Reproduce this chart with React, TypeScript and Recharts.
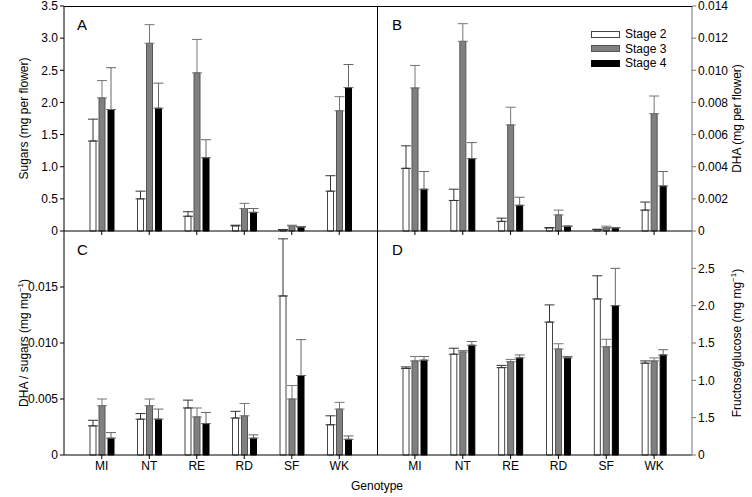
import { BarChart, Bar, XAxis, YAxis, ErrorBar } from "recharts";

const genotypes = ["MI", "NT", "RE", "RD", "SF", "WK"];

// A: sugars (mg per flower)
const sugarStage2 = [1.4, 0.5, 0.23, 0.08, 0.02, 0.62];
const sugarStage3 = [2.07, 2.92, 2.46, 0.35, 0.08, 1.87];
const sugarStage4 = [1.89, 1.91, 1.14, 0.29, 0.06, 2.23];
const sugarErr2 = [0.34, 0.12, 0.07, 0.01, 0, 0.24];
const sugarErr3 = [0.27, 0.29, 0.52, 0.08, 0.01, 0.22];
const sugarErr4 = [0.65, 0.39, 0.28, 0.06, 0.01, 0.36];

// B: DHA (mg per flower)
const dhaStage2 = [0.0039, 0.0019, 0.0006, 0.0002, 0.0001, 0.0013];
const dhaStage3 = [0.0089, 0.0118, 0.0066, 0.001, 0.0002, 0.0073];
const dhaStage4 = [0.0026, 0.0045, 0.0016, 0.0003, 0.0002, 0.0028];
const dhaErr2 = [0.0014, 0.0007, 0.0002, 0, 0, 0.0005];
const dhaErr3 = [0.0014, 0.0011, 0.0011, 0.0003, 0.0001, 0.0011];
const dhaErr4 = [0.0011, 0.001, 0.0005, 0, 0, 0.0009];

// C: DHA / sugars
const ratioStage2 = [0.0026, 0.0032, 0.0042, 0.0033, 0.0142, 0.0027];
const ratioStage3 = [0.0044, 0.0044, 0.0034, 0.0035, 0.005, 0.0041];
const ratioStage4 = [0.0015, 0.0032, 0.0028, 0.0015, 0.0071, 0.0014];
const ratioErr2 = [0.0005, 0.0005, 0.0007, 0.0006, 0.0051, 0.0008];
const ratioErr3 = [0.0006, 0.0006, 0.0008, 0.0011, 0.0012, 0.0006];
const ratioErr4 = [0.0005, 0.0009, 0.001, 0.0003, 0.0032, 0.0003];

// D: fructose / glucose
const fgStage2 = [1.16, 1.35, 1.17, 1.78, 2.09, 1.23];
const fgStage3 = [1.26, 1.38, 1.25, 1.42, 1.45, 1.26];
const fgStage4 = [1.27, 1.47, 1.3, 1.3, 2.0, 1.34];
const fgErr2 = [0.02, 0.08, 0.03, 0.23, 0.31, 0.03];
const fgErr3 = [0.06, 0.02, 0.03, 0.07, 0.1, 0.04];
const fgErr4 = [0.05, 0.05, 0.04, 0.02, 0.5, 0.07];

const sugarTicks = [0, 0.5, 1, 1.5, 2, 2.5, 3, 3.5];
const sugarTickLabels = ["0", "0.5", "1.0", "1.5", "2.0", "2.5", "3.0", "3.5"];
const dhaTicks = [0, 0.002, 0.004, 0.006, 0.008, 0.01, 0.012, 0.014];
const dhaTickLabels = ["0", "0.002", "0.004", "0.006", "0.008", "0.010", "0.012", "0.014"];
const ratioTicks = [0, 0.005, 0.01, 0.015];
const ratioTickLabels = ["0", "0.005", "0.010", "0.015"];
const fgTicks = [0, 0.5, 1, 1.5, 2, 2.5];
const fgTickLabels = ["0", "1.5", "1.0", "1.5", "2.0", "2.5"];

const stageNames = ["Stage 2", "Stage 3", "Stage 4"];

const makeRows = (m2, m3, m4, e2, e3, e4) =>
  genotypes.map((g, i) => ({
    g,
    s2: m2[i],
    s3: m3[i],
    s4: m4[i],
    e2: [0, e2[i]],
    e3: [0, e3[i]],
    e4: [0, e4[i]],
  }));

const AxisTitle = ({ viewBox, dx, text, sup, after }: any) => {
  const cx = viewBox.x + dx;
  const cy = viewBox.y + viewBox.height / 2;
  return (
    <text x={cx} y={cy} transform={`rotate(-90 ${cx} ${cy})`} textAnchor="middle" fontSize={12} fill="#000">
      {text}
      {sup && (
        <tspan dy={-5} fontSize={8}>
          {sup}
        </tspan>
      )}
      {sup && <tspan dy={5}>{after}</tspan>}
    </text>
  );
};

const Panel = ({ left, top, width, height, margin, data, domain, ticks, tickLabels, side, yWidth, xHeight, showX, letter, title }: any) => {
  const fmt = (v: number) => {
    const i = ticks.findIndex((t: number) => Math.abs(t - v) < 1e-9);
    return i >= 0 ? tickLabels[i] : "";
  };
  return (
    <div style={{ position: "absolute", left, top }}>
      <BarChart width={width} height={height} data={data} margin={margin} barSize={6} barGap={3}>
        <XAxis
          dataKey="g"
          height={xHeight}
          padding={{ left: 14, right: 14 }}
          tickSize={4}
          axisLine={{ stroke: "#000" }}
          tickLine={{ stroke: "#000" }}
          tick={{ fill: "#000", fontSize: 12 }}
          tickFormatter={showX ? undefined : () => ""}
          interval={0}
        />
        <YAxis
          type="number"
          orientation={side}
          width={yWidth}
          domain={domain}
          ticks={ticks}
          interval={0}
          tickFormatter={fmt}
          tickSize={4}
          axisLine={{ stroke: side === "right" ? "#777" : "#000" }}
          tickLine={{ stroke: side === "right" ? "#777" : "#000" }}
          tick={{ fill: "#000", fontSize: 12 }}
          label={(p: any) => <AxisTitle viewBox={p.viewBox} {...title} />}
        />
        <Bar dataKey="s2" fill="#fff" stroke="#444" strokeWidth={1} isAnimationActive={false}>
          <ErrorBar dataKey="e2" width={5} stroke="#333" strokeWidth={1} isAnimationActive={false} />
        </Bar>
        <Bar dataKey="s3" fill="#808080" stroke="#555" strokeWidth={1} isAnimationActive={false}>
          <ErrorBar dataKey="e3" width={5} stroke="#777" strokeWidth={1} isAnimationActive={false} />
        </Bar>
        <Bar dataKey="s4" fill="#000" stroke="#000" strokeWidth={1} isAnimationActive={false}>
          <ErrorBar dataKey="e4" width={5} stroke="#666" strokeWidth={1} isAnimationActive={false} />
        </Bar>
      </BarChart>
      <div style={{ position: "absolute", left: letter.x, top: letter.y, fontSize: 15 }}>{letter.t}</div>
    </div>
  );
};

const legendFills = [
  { fill: "#fff", stroke: "#444" },
  { fill: "#808080", stroke: "#555" },
  { fill: "#000", stroke: "#000" },
];

export default function App() {
  return (
    <div
      style={{
        position: "absolute",
        left: 0,
        top: 0,
        width: 752,
        height: 497,
        background: "#fff",
        fontFamily: "'Liberation Sans', Arial, sans-serif",
        color: "#000",
      }}
    >
      <Panel
        left={0}
        top={0}
        width={378}
        height={241}
        margin={{ top: 6, right: 1, left: 0, bottom: 0 }}
        data={makeRows(sugarStage2, sugarStage3, sugarStage4, sugarErr2, sugarErr3, sugarErr4)}
        domain={[0, 3.5]}
        ticks={sugarTicks}
        tickLabels={sugarTickLabels}
        side="left"
        yWidth={64}
        xHeight={10}
        showX={false}
        letter={{ t: "A", x: 77, y: 16 }}
        title={{ dx: 28, text: "Sugars (mg per flower)" }}
      />
      <Panel
        left={377}
        top={0}
        width={375}
        height={241}
        margin={{ top: 6, right: 0, left: 0, bottom: 0 }}
        data={makeRows(dhaStage2, dhaStage3, dhaStage4, dhaErr2, dhaErr3, dhaErr4)}
        domain={[0, 0.014]}
        ticks={dhaTicks}
        tickLabels={dhaTickLabels}
        side="right"
        yWidth={60}
        xHeight={10}
        showX={false}
        letter={{ t: "B", x: 15, y: 16 }}
        title={{ dx: 49, text: "DHA (mg per flower)" }}
      />
      <Panel
        left={0}
        top={231}
        width={378}
        height={266}
        margin={{ top: 0, right: 1, left: 0, bottom: 0 }}
        data={makeRows(ratioStage2, ratioStage3, ratioStage4, ratioErr2, ratioErr3, ratioErr4)}
        domain={[0, 0.02]}
        ticks={ratioTicks}
        tickLabels={ratioTickLabels}
        side="left"
        yWidth={64}
        xHeight={42}
        showX={true}
        letter={{ t: "C", x: 77, y: 10 }}
        title={{ dx: 28, text: "DHA / sugars (mg mg", sup: "−1", after: ")" }}
      />
      <Panel
        left={377}
        top={231}
        width={375}
        height={266}
        margin={{ top: 0, right: 0, left: 0, bottom: 0 }}
        data={makeRows(fgStage2, fgStage3, fgStage4, fgErr2, fgErr3, fgErr4)}
        domain={[0, 3]}
        ticks={fgTicks}
        tickLabels={fgTickLabels}
        side="right"
        yWidth={60}
        xHeight={42}
        showX={true}
        letter={{ t: "D", x: 15, y: 10 }}
        title={{ dx: 49, text: "Fructose/glucose (mg mg", sup: "−1", after: ")" }}
      />
      {/* frame: top edge and middle divider */}
      <div style={{ position: "absolute", left: 64, top: 6, width: 628, height: 1, background: "#000" }} />
      <div style={{ position: "absolute", left: 377, top: 6, width: 1, height: 449, background: "#000" }} />
      {/* legend */}
      <div style={{ position: "absolute", left: 591, top: 27 }}>
        {stageNames.map((s, i) => (
          <div key={s} style={{ display: "flex", alignItems: "center", height: 14.5, fontSize: 12 }}>
            <div
              style={{
                width: 27,
                height: 5,
                background: legendFills[i].fill,
                border: `1px solid ${legendFills[i].stroke}`,
                marginRight: 5,
              }}
            />
            <span>{s}</span>
          </div>
        ))}
      </div>
      <div style={{ position: "absolute", left: 0, width: 754, top: 479, textAlign: "center", fontSize: 12 }}>
        Genotype
      </div>
    </div>
  );
}
